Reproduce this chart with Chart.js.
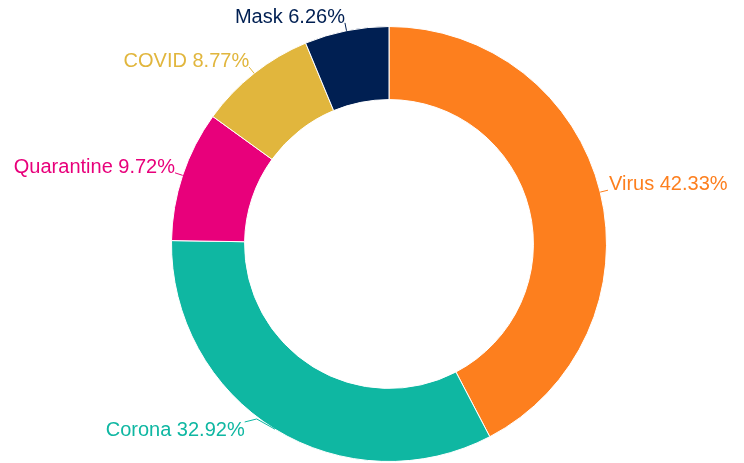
<!DOCTYPE html>
<html>
<head>
<meta charset="utf-8">
<script src="https://cdn.jsdelivr.net/npm/chart.js@4"></script>
<style>
  html, body { margin: 0; padding: 0; background: #ffffff; }
  #wrap { position: relative; width: 744px; height: 463px; }
</style>
</head>
<body>
<div id="wrap"><canvas id="chart"></canvas></div>
<script>
// Data
const categories = ['Virus', 'Corona', 'Quarantine', 'COVID', 'Mask'];
const shares = [42.33, 32.92, 9.72, 8.77, 6.26];
const sliceColors = ['#FD7F1E', '#0FB7A2', '#E8007B', '#E1B63D', '#001F52'];

// Outside labels with short leader lines
const outsideLabels = {
  id: 'outsideLabels',
  afterDatasetsDraw(chart, args, opts) {
    const ctx = chart.ctx;
    const meta = chart.getDatasetMeta(0);
    ctx.save();
    ctx.font = '20px "Liberation Sans", Arial, sans-serif';
    ctx.lineWidth = 1;
    meta.data.forEach((arc, i) => {
      const p = arc.getProps(['x', 'y', 'startAngle', 'endAngle', 'outerRadius'], true);
      const mid = (p.startAngle + p.endAngle) / 2;
      const cos = Math.cos(mid), sin = Math.sin(mid);
      const ox = p.x + cos * p.outerRadius;
      const oy = p.y + sin * p.outerRadius;
      let ax = ox + cos * 8;
      let ay = oy + sin * 8;
      const nudge = (opts.nudge || {})[i];
      const color = sliceColors[i];
      ctx.strokeStyle = color;
      ctx.fillStyle = color;
      ctx.beginPath();
      ctx.moveTo(ox, oy);
      if (nudge) {
        ax += nudge[0];
        ay += nudge[1];
        ctx.lineTo(ax + 12, ay - 3);
      }
      ctx.lineTo(ax, ay);
      ctx.stroke();
      const text = categories[i] + ' ' + shares[i].toFixed(2) + '%';
      const right = cos >= 0;
      ctx.textAlign = right ? 'left' : 'right';
      ctx.textBaseline = 'alphabetic';
      const tx = right ? ax + 1 : ax;
      const ty = sin > 0 ? ay + 14 : ay;
      ctx.fillText(text, tx, ty);
    });
    ctx.restore();
  }
};

new Chart(document.getElementById('chart'), {
  type: 'doughnut',
  data: {
    labels: categories,
    datasets: [{
      data: shares,
      backgroundColor: sliceColors,
      borderColor: '#ffffff',
      borderWidth: 1
    }]
  },
  options: {
    responsive: true,
    maintainAspectRatio: false,
    animation: false,
    cutout: '66.4%',
    layout: { padding: { left: 171, right: 137, top: 26, bottom: 1 } },
    plugins: {
      legend: { display: false },
      tooltip: { enabled: false },
      outsideLabels: { nudge: { 1: [-26, -14] } }
    }
  },
  plugins: [outsideLabels]
});
</script>
</body>
</html>
